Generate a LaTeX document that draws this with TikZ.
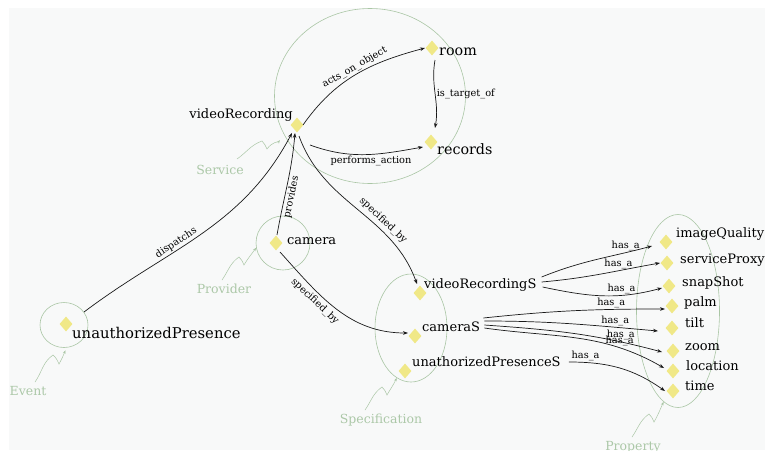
\documentclass[tikz,border=0pt]{standalone}
\usepackage{fontspec}
\setmainfont{DejaVu Serif}
\usetikzlibrary{shapes.geometric,arrows.meta}
\definecolor{bggray}{RGB}{248,249,249}
\definecolor{dyel}{RGB}{240,232,135}
\definecolor{ggreen}{RGB}{170,198,165}
\definecolor{tgreen}{RGB}{172,200,168}
\begin{document}
\begin{tikzpicture}[x=1pt,y=1pt,
  dia/.style={diamond, fill=dyel, inner sep=0pt, minimum width=13pt, minimum height=15pt},
  lbl/.style={font=\fontsize{13}{15}\selectfont, inner sep=0pt, anchor=base west},
  big/.style={font=\fontsize{14.3}{16}\selectfont},
  bigger/.style={font=\fontsize{14.8}{17}\selectfont},
  grp/.style={draw=ggreen, line width=0.6pt, ellipse, inner sep=0pt},
  glbl/.style={text=tgreen, font=\fontsize{12.5}{14}\selectfont, inner sep=0pt},
  rel/.style={draw=black!90, line width=0.7pt, -{Stealth[length=5pt,width=3.6pt]}},
  el/.style={font=\fontsize{9.8}{11}\selectfont, inner sep=1.5pt},
  hl/.style={font=\fontsize{9.8}{11}\selectfont, inner sep=1.5pt, above},
  squig/.style={draw=ggreen, line width=0.5pt, -{Stealth[length=3.5pt,width=2.6pt]}}
]
\useasboundingbox (0,0) rectangle (765,-450);
\fill[bggray] (9,-7.5) rectangle (765,-450);

% group ellipses
\node[grp, minimum width=191pt, minimum height=175pt] (svc) at (370,-96) {};
\node[grp, minimum width=54pt, minimum height=54pt] (prov) at (283,-243) {};
\node[grp, minimum width=48pt, minimum height=45pt] (ev) at (64,-325) {};
\node[grp, minimum width=72pt, minimum height=108pt] (spec) at (411,-328) {};
\node[grp, minimum width=83pt, minimum height=193pt] (prop) at (678,-311) {};

% group labels
\node[glbl, anchor=base] (Lsvc) at (220,-174) {Service};
\node[glbl, anchor=base] (Lprov) at (224,-293) {Provider};
\node[glbl, anchor=base] (Lev) at (28,-395) {Event};
\node[glbl, anchor=base] (Lspec) at (381,-423) {Specification};
\node[glbl, anchor=base] (Lprop) at (633,-450) {Property};

% squiggly pointers
\draw[squig, shorten >=7pt] ([shift={(17,15)}]Lsvc.base) to[out=35,in=200] ++(25,18) to[out=-40,in=120] ++(5,-8) to[out=55,in=235] (svc.204);
\draw[squig, shorten >=3pt] ([shift={(7,13)}]Lev.base) to[out=55,in=215] ++(18,27) to[out=-40,in=115] ++(6,-9) to[out=60,in=245] (ev.277);
\draw[squig] ([shift={(-2,13)}]Lprov.base) to[out=55,in=215] ++(17,23) to[out=-40,in=115] ++(5,-8) to[out=60,in=235] (prov.190);
\draw[squig] ([shift={(-16,13)}]Lspec.base) to[out=55,in=215] ++(17,23) to[out=-40,in=115] ++(5,-8) to[out=60,in=245] (spec.254);
\draw[squig] ([shift={(-1,13)}]Lprop.base) to[out=55,in=215] ++(17,23) to[out=-40,in=115] ++(5,-8) to[out=60,in=245] (prop.261);

% diamonds
\node[dia] (vr) at (297,-125) {};
\node[dia] (room) at (432,-48) {};
\node[dia] (rec) at (431,-142) {};
\node[dia] (cam) at (276,-243) {};
\node[dia] (up) at (66,-324) {};
\node[dia] (vrs) at (420,-293) {};
\node[dia] (cams) at (415,-336) {};
\node[dia] (ups) at (405,-371) {};
\node[dia] (iq) at (666,-242) {};
\node[dia] (sp) at (667,-263) {};
\node[dia] (ss) at (669,-286) {};
\node[dia] (palm) at (672,-306) {};
\node[dia] (tilt) at (672,-328) {};
\node[dia] (zoom) at (673,-351) {};
\node[dia] (loc) at (673,-371) {};
\node[dia] (time) at (673,-391) {};

% texts
\node[lbl, anchor=base east] (vrT) at (293,-118) {videoRecording};
\node[lbl, big] (roomT) at (439,-55) {room};
\node[lbl, big] (recT) at (437,-154) {records};
\node[lbl] (camT) at (287,-244) {camera};
\node[lbl, bigger] (upT) at (72,-338) {unauthorizedPresence};
\node[lbl] (vrsT) at (424,-288) {videoRecordingS};
\node[lbl] (camsT) at (422,-331) {cameraS};
\node[lbl] (upsT) at (412,-366) {unathorizedPresenceS};
\node[lbl] (iqT) at (676,-237) {imageQuality};
\node[lbl] (spT) at (680,-263) {serviceProxy};
\node[lbl] (ssT) at (682,-286) {snapShot};
\node[lbl] (palmT) at (684,-306) {palm};
\node[lbl] (tiltT) at (685,-327) {tilt};
\node[lbl] (zoomT) at (685,-350) {zoom};
\node[lbl] (locT) at (686,-370) {location};
\node[lbl] (timeT) at (685,-390) {time};

% main relations
\draw[rel] (ev.33) to[out=37,in=-118] node[el,sloped,above,pos=.4]{dispatchs} ([shift={(-5,-8)}]vr.center);
\draw[rel] ([shift={(6,0)}]vr.center) to[out=55,in=195] node[el,sloped,above,pos=.52]{acts\_on\_object} ([shift={(-7,0)}]room.center);
\draw[rel] ([shift={(3,-12)}]room.center) to[out=-100,in=80] node[el,right,pos=.5]{is\_target\_of} ([shift={(4,14)}]rec.center);
\draw[rel] ([shift={(13,-20)}]vr.center) to[out=-20,in=190] node[el,below,pos=.55]{performs\_action} ([shift={(-8,-5)}]rec.center);
\draw[rel] ([shift={(1,8)}]cam.center) to[out=80,in=-95] node[el,sloped,below,pos=.38]{provides} ([shift={(-2,-8)}]vr.center);
\draw[rel] ([shift={(2,-11)}]vr.center) to[out=-70,in=110] node[el,sloped,above,pos=.64,inner sep=3.5pt]{specified\_by} ([shift={(-3,9)}]vrs.center);
\draw[rel] ([shift={(4,-9)}]cam.center) to[out=-48,in=180] node[el,sloped,below,pos=.36,inner sep=3pt]{specified\_by} ([shift={(-7,3)}]cams.center);

% has_a relations
\draw[rel] ([shift={(5,11)}]vrsT.base east) to[out=22,in=195] node[hl,pos=.78]{has\_a} ([shift={(-14,-4)}]iq.center);
\draw[rel] ([shift={(5,6)}]vrsT.base east) to[out=5,in=190] node[hl,pos=.66]{has\_a} ([shift={(-7,0)}]sp.center);
\draw[rel] ([shift={(6,1)}]vrsT.base east) to[out=-12,in=195] node[hl,pos=.67]{has\_a} ([shift={(-7,-2)}]ss.center);
\draw[rel] ([shift={(3,13)}]camsT.base east) to[out=6,in=180] node[hl,pos=.72]{has\_a} ([shift={(-7,-3)}]palm.center);
\draw[rel] ([shift={(4,10)}]camsT.base east) to[out=0,in=175] node[hl,pos=.77]{has\_a} ([shift={(-14,-3)}]tilt.center);
\draw[rel] ([shift={(4,6)}]camsT.base east) to[out=-4,in=165] node[hl,pos=.78]{has\_a} ([shift={(-11,-1)}]zoom.center);
\draw[rel] ([shift={(4,3)}]camsT.base east) to[out=-8,in=150] node[hl,pos=.75]{has\_a} ([shift={(-9,3)}]loc.center);
\draw[rel] ([shift={(8,4)}]upsT.base east) to[out=0,in=145] node[hl,pos=.15]{has\_a} ([shift={(-8,0)}]time.center);
\end{tikzpicture}
\end{document}
